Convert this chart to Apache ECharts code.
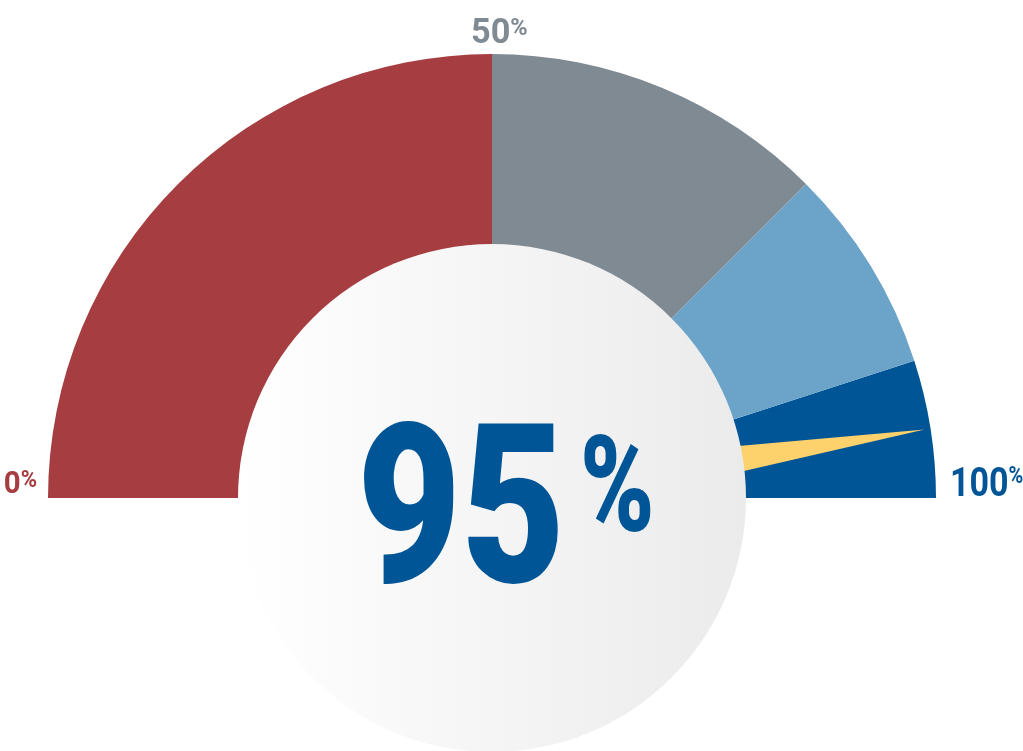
<!DOCTYPE html>
<html>
<head>
<meta charset="utf-8">
<script src="https://cdn.jsdelivr.net/npm/echarts@6/dist/echarts.min.js"></script>
<style>
html,body{margin:0;padding:0;background:#fff;}
#chart{width:1023px;height:751px;}
</style>
</head>
<body>
<div id="chart"></div>
<script>
// ---- data ----
const gaugeValue = 95;
const bandEnds = [50, 75, 90, 100];            // upper bound (%) of each coloured band
const bandColors = ['#A63D40', '#808A93', '#6BA4C8', '#005596'];
const tickValues = [0, 50, 100];
const tickLabels = ['0%', '50%', '100%'];
const tickColors = ['#A63D40', '#808A93', '#005596'];

// ---- layout / style ----
const CX = 492, CY = 498, R = 444, RIN = 253, RC = 254;
const FONT = 'Roboto, "DejaVu Sans Condensed", sans-serif';
const labelStyle = [
  { fs: 32, anchor: 'right', sx: 0.92 },
  { fs: 35, anchor: 'top', sx: 0.98 },
  { fs: 41, anchor: 'left', sx: 0.83 }
];

const chart = echarts.init(document.getElementById('chart'));

function richText(t) {
  return '{n|' + t.replace('%', '') + '}{p|%}';
}

const labelGraphics = tickValues.map((v, i) => {
  const st = labelStyle[i];
  const ang = Math.PI * (1 - v / 100);
  let x, y, align;
  if (st.anchor === 'right') { x = CX + Math.cos(ang) * (R + 11); y = CY - 29; align = 'right'; }
  else if (st.anchor === 'left') { x = CX + Math.cos(ang) * (R + 14); y = CY - 33; align = 'left'; }
  else { x = CX - 21; y = CY - R - 37; align = 'left'; }
  return {
    type: 'text',
    x: x, y: y,
    scaleX: st.sx,
    z: 50,
    silent: true,
    style: {
      text: richText(tickLabels[i]),
      align: align,
      verticalAlign: 'top',
      rich: {
        n: { fontFamily: FONT, fontWeight: 'bold', fontSize: st.fs, lineHeight: st.fs, fill: tickColors[i] },
        p: { fontFamily: FONT, fontWeight: 'bold', fontSize: 24, lineHeight: 31, verticalAlign: 'top', fill: tickColors[i] }
      }
    }
  };
});

const bigDigits = {
  type: 'text',
  x: CX - 135,
  y: CY - 83,
  scaleX: 0.81,
  z: 100,
  silent: true,
  style: {
    text: String(gaugeValue),
    align: 'left',
    verticalAlign: 'top',
    fontFamily: FONT, fontWeight: 900, fontSize: 222, lineHeight: 222,
    fill: '#005596'
  }
};
const bigPercent = {
  type: 'text',
  x: CX + 88,
  y: CY - 68,
  scaleX: 0.75,
  z: 100,
  silent: true,
  style: {
    text: '%',
    align: 'left',
    verticalAlign: 'top',
    fontFamily: FONT, fontWeight: 900, fontSize: 134, lineHeight: 134,
    fill: '#005596'
  }
};

const option = {
  backgroundColor: '#ffffff',
  animation: false,
  graphic: labelGraphics.concat([bigDigits, bigPercent]),
  series: [
    {
      type: 'gauge',
      z: 1,
      center: [CX, CY],
      radius: R,
      startAngle: 180,
      endAngle: 0,
      min: 0,
      max: 100,
      axisLine: {
        lineStyle: {
          width: R - RIN,
          color: bandEnds.map((e, i) => [e / 100, bandColors[i]])
        }
      },
      pointer: {
        show: true,
        icon: 'triangle',
        length: 438,
        width: 60,
        offsetCenter: [0, 0],
        itemStyle: { color: '#FDD16B' }
      },
      anchor: { show: false },
      progress: { show: false },
      axisTick: { show: false },
      splitLine: { show: false },
      axisLabel: { show: false },
      title: { show: false },
      detail: { show: false },
      data: [{ value: gaugeValue }]
    },
    {
      type: 'pie',
      z: 2,
      silent: true,
      center: [CX, CY],
      radius: [0, RC],
      label: { show: false },
      labelLine: { show: false },
      emphasis: { disabled: true },
      itemStyle: {
        color: new echarts.graphic.LinearGradient(0, 0, 1, 0, [
          { offset: 0, color: '#FFFFFF' },
          { offset: 1, color: '#EBEBEB' }
        ])
      },
      data: [{ value: 1 }]
    }
  ]
};
chart.setOption(option);
</script>
</body>
</html>
